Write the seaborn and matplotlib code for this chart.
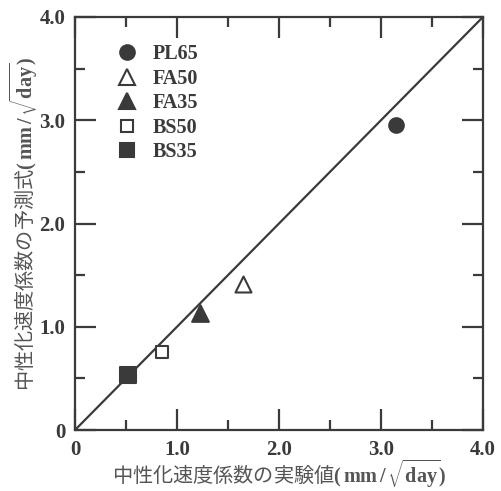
import pandas as pd
import matplotlib
matplotlib.use("Agg")
import matplotlib.pyplot as plt
import seaborn as sns
from matplotlib.ticker import MultipleLocator, FuncFormatter
from matplotlib.lines import Line2D

# data (mm / sqrt(day))
series = ['PL65', 'FA50', 'FA35', 'BS50', 'BS35']
measured = [3.15, 1.65, 1.23, 0.85, 0.52]
predicted = [2.95, 1.41, 1.13, 0.76, 0.53]
markers = ['o', '^', '^', 's', 's']
filled = [True, False, True, False, True]
sizes = [10.5, 11.5, 12, 9, 11.5]
legend_sizes = [10.5, 11, 12, 9, 10.5]

ink = '#3a3a3a'
label_gray = '#555555'

sns.set_theme(style="ticks")
plt.rcParams['font.family'] = ['Liberation Serif', 'DejaVu Serif']
plt.rcParams['font.weight'] = 'bold'
plt.rcParams['mathtext.fontset'] = 'custom'
plt.rcParams['mathtext.rm'] = 'Liberation Serif:bold'
plt.rcParams['mathtext.bf'] = 'Liberation Serif:bold'
plt.rcParams['mathtext.it'] = 'Liberation Serif:bold'

df = pd.DataFrame({'series': series, 'measured': measured, 'predicted': predicted})

fig, ax = plt.subplots(figsize=(5.01, 4.91), dpi=100)
fig.subplots_adjust(left=0.1497, right=0.964, top=0.9654, bottom=0.1242)

# 1:1 reference line
ax.axline((0, 0), slope=1, color=ink, linewidth=1.6, zorder=1)

handles = []
for i, name in enumerate(series):
    sub = df[df['series'] == name]
    fc = ink if filled[i] else 'white'
    sns.scatterplot(data=sub, x='measured', y='predicted', ax=ax,
                    marker=markers[i], s=sizes[i] ** 2, color=fc,
                    edgecolor=ink, linewidth=1.5, zorder=3, legend=False)
    handles.append(Line2D([], [], linestyle='none', marker=markers[i],
                          markersize=legend_sizes[i], markerfacecolor=fc,
                          markeredgecolor=ink, markeredgewidth=1.5, label=name))

ax.set_xlim(0, 4.0)
ax.set_ylim(0, 4.0)
ax.xaxis.set_major_locator(MultipleLocator(1.0))
ax.yaxis.set_major_locator(MultipleLocator(1.0))
ax.xaxis.set_minor_locator(MultipleLocator(0.5))
ax.yaxis.set_minor_locator(MultipleLocator(0.5))
fmt = FuncFormatter(lambda v, p: '0' if v == 0 else f'{v:.1f}')
ax.xaxis.set_major_formatter(fmt)
ax.yaxis.set_major_formatter(fmt)

for s in ax.spines.values():
    s.set_visible(True)
    s.set_linewidth(1.6)
    s.set_color(ink)

ax.tick_params(which='both', direction='in', top=True, right=True,
               color=ink, width=1.6)
ax.tick_params(which='major', length=15, labelsize=15, labelcolor=ink, pad=7)
ax.tick_params(which='minor', length=7.5)
ax.tick_params(axis='x', which='major', pad=7)

ax.set_xlabel('中性化速度係数の実験値$\\mathrm{(\\,mm\\,/\\,\\sqrt{day})}$',
              family='Noto Sans CJK JP', fontsize=14.5, color=label_gray,
              fontweight='normal', va='bottom')
ax.xaxis.set_label_coords(0.5, -0.1445)
ax.set_ylabel('中性化速度係数の予測式$\\mathrm{(\\,mm\\,/\\,\\sqrt{day})}$',
              family='Noto Sans CJK JP', fontsize=14.5, color=label_gray,
              fontweight='normal', va='center', ha='center')
ax.yaxis.set_label_coords(-0.126, 0.5)

leg = ax.legend(handles=handles, loc='upper left', bbox_to_anchor=(0.083, 0.953),
                frameon=False, handlelength=1.0, handletextpad=0.8,
                labelspacing=0.22, borderaxespad=0,
                prop={'family': 'Liberation Serif', 'weight': 'bold', 'size': 14.5})
for t in leg.get_texts():
    t.set_color(ink)

plt.savefig('out.png', dpi=100)
